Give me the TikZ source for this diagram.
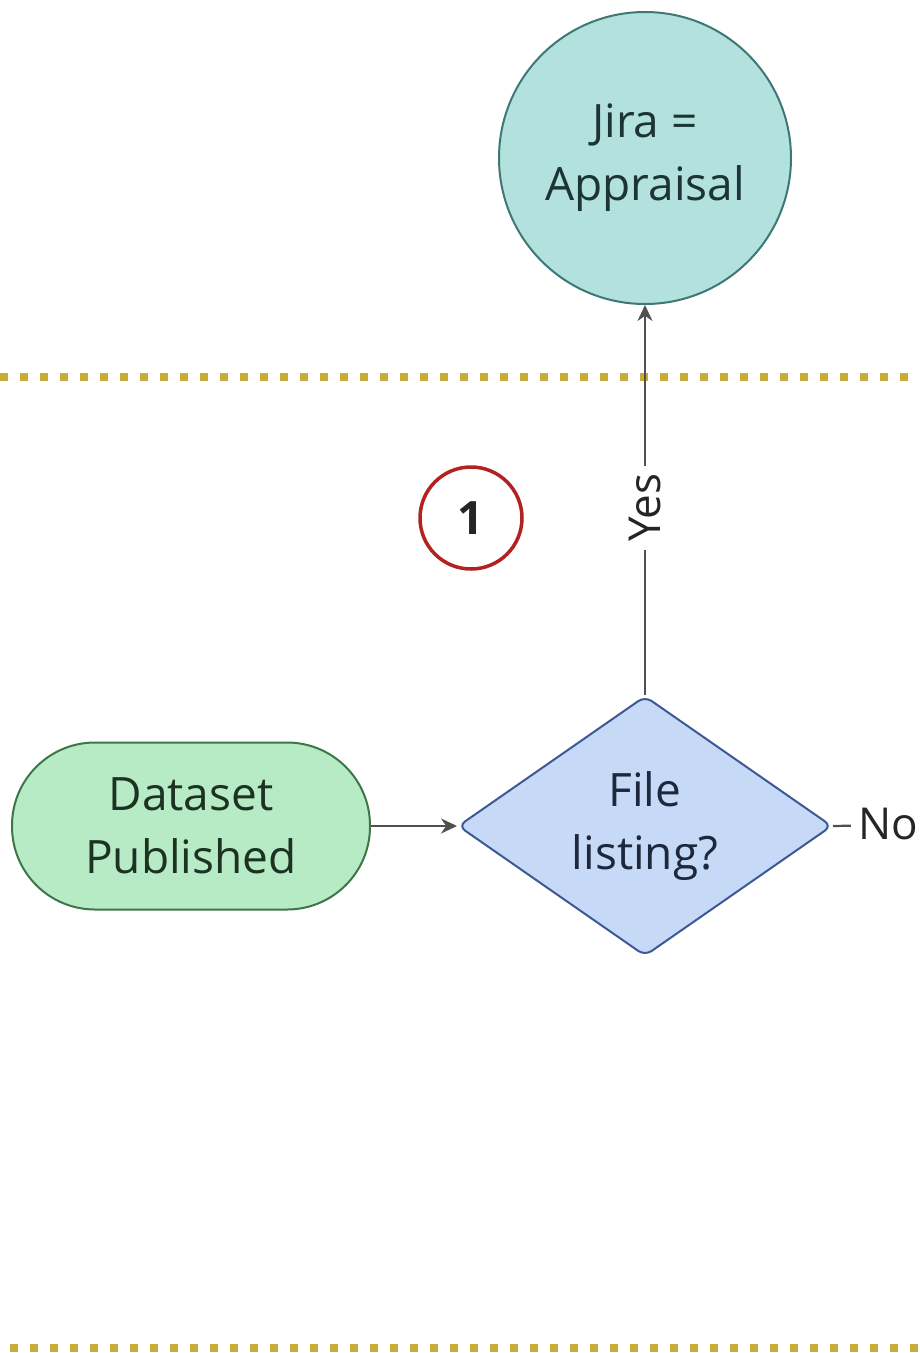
\documentclass[tikz,border=0pt]{standalone}
\usepackage{fontspec}
\setmainfont{Open Sans}
\usetikzlibrary{shapes.geometric,arrows.meta}
\definecolor{gold}{RGB}{200,172,58}
\definecolor{tealfill}{RGB}{178,225,222}
\definecolor{tealline}{RGB}{62,120,118}
\definecolor{tealtext}{RGB}{28,52,52}
\definecolor{greenfill}{RGB}{183,235,197}
\definecolor{greenline}{RGB}{62,118,74}
\definecolor{greentext}{RGB}{28,50,34}
\definecolor{bluefill}{RGB}{198,218,248}
\definecolor{blueline}{RGB}{62,88,150}
\definecolor{bluetext}{RGB}{30,40,60}
\definecolor{txt}{RGB}{35,38,40}
\definecolor{conn}{RGB}{80,80,80}
\definecolor{badgered}{RGB}{178,34,34}
\tikzset{
  lane/.style={draw=gold, line width=8pt, dash pattern=on 8pt off 12pt},
  bigtext/.style={font=\fontsize{46}{63}\selectfont, align=center},
  endcircle/.style={circle, draw=tealline, fill=tealfill, line width=2pt, minimum size=292pt, inner sep=0pt, bigtext, text=tealtext},
  startbox/.style={rectangle, rounded corners=83pt, draw=greenline, fill=greenfill, line width=2pt, minimum width=358pt, minimum height=167pt, inner sep=0pt, bigtext, text=greentext},
  decision/.style={diamond, aspect=1.44, draw=blueline, fill=bluefill, line width=2pt, minimum width=374pt, minimum height=260pt, inner sep=0pt, rounded corners=8pt, bigtext, text=bluetext},
  badge/.style={circle, draw=badgered, line width=3.5pt, minimum size=102pt, inner sep=0pt, text=txt, font=\fontsize{46}{46}\selectfont\bfseries},
  connector/.style={draw=conn, line width=2.2pt, -{Stealth[length=16pt,width=15pt]}},
  plainconn/.style={draw=conn, line width=2.2pt},
  edgelabel/.style={fill=white, text=txt, font=\fontsize{44}{44}\selectfont, inner sep=8pt}
}
\begin{document}
\begin{tikzpicture}[x=1pt,y=-1pt]
\useasboundingbox (0,0) rectangle (920,1353);
\clip (0,0) rectangle (920,1353);
\fill[white] (0,0) rectangle (920,1353);
\draw[lane] (0,377) -- (925,377);
\draw[lane] (10,1348) -- (925,1348);

\node[endcircle] (jira) at (645,158) {Jira =\\Appraisal};
\node[startbox] (start) at (191,826) {Dataset\\Published};
\node[decision] (dec) at (645,826) {File\\listing?};
\node[badge] (one) at (471,518) {1};
\coordinate (noend) at (940,824);
\coordinate (nolabel) at (851,824);

\draw[connector] (start.east) -- (dec.west);
\draw[connector] (dec.north) -- node[edgelabel, rotate=90, pos=0.48] {Yes} (jira.south);
\draw[plainconn] (dec.east) -- (noend);
\node[edgelabel, anchor=west, inner xsep=7pt] (no) at (nolabel) {No};
\end{tikzpicture}
\end{document}
